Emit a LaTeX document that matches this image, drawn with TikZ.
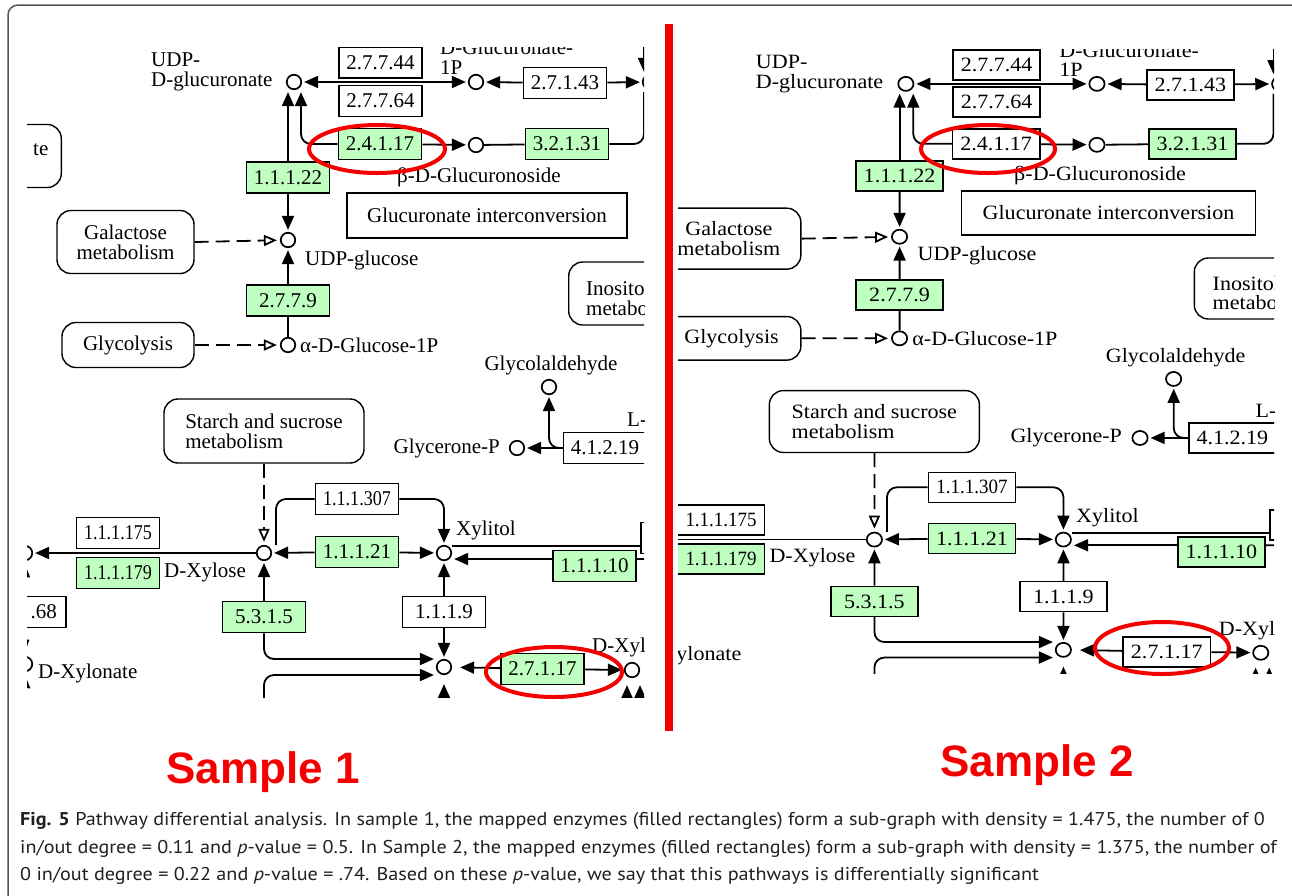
\documentclass[tikz,border=0pt]{standalone}
\usepackage{fontspec}
\usepackage{graphicx}
\setmainfont{Liberation Serif}
\newfontfamily\capfont[FakeStretch=1.09]{PT Sans}
\newfontfamily\bigsans{Liberation Sans}
\usetikzlibrary{arrows.meta}
\definecolor{kgreen}{RGB}{191,255,191}
\definecolor{framegray}{RGB}{85,85,85}
\definecolor{capgray}{RGB}{35,31,32}
\definecolor{sred}{RGB}{245,0,0}
\newcommand{\tightnum}[1]{\scalebox{0.86}[1]{#1}}
\newcommand{\keggmap}[3]{%
% ---------- pathway / title boxes
\node[pbox, minimum width=100pt, minimum height=63pt, anchor=east] (#1pte) at (62,156) {};
\node[lbl, anchor=west] (#1tte) at (33,150) {te};
\node[pbox, minimum width=137pt, minimum height=63pt, align=center] (#1pgal) at (125.5,242) {Galactose\\metabolism};
\node[pbox, minimum width=132pt, minimum height=45pt] (#1pgly) at (128,345) {Glycolysis};
\node[pbox, minimum width=130pt, minimum height=63pt, anchor=west] (#1pino) at (568,293.5) {};
\node[lbl, align=left, anchor=west] (#1tino) at (586,298) {Inositol phosphate\\metabolism};
\node[pbox, minimum width=200pt, minimum height=64pt, align=left] (#1pst) at (264,431) {Starch and sucrose\\metabolism};
\node[tbox] (#1gic) at (487,215.5) {Glucuronate interconversion};
% ---------- compounds
\node[cpd] (#1udpga) at (294,82) {};
\node[cpd] (#1gcp) at (476,82) {};
\node[cpd] (#1rca) at (650,82) {};
\node[cpd] (#1bgl) at (476,145) {};
\node[cpd] (#1udpg) at (288,240) {};
\node[cpd] (#1gip) at (288,345) {};
\node[cpd] (#1glyald) at (549,387) {};
\node[cpd] (#1glycp) at (517,448) {};
\node[cpd] (#1xyl) at (264,553) {};
\node[cpd] (#1xylt) at (444,553) {};
\node[cpd] (#1jn) at (444,667) {};
\node[cpd] (#1dxy) at (632,670) {};
\node[cpd] (#1lca) at (25,553) {};
\node[cpd] (#1lcb) at (25,664) {};
% ---------- enzymes
\node[ebox] (#1eaa) at (380.5,62.5) {2.7.7.44};
\node[ebox] (#1eab) at (380.5,101) {2.7.7.64};
\node[ebox] (#1eac) at (565,83) {2.7.1.43};
\node[ebox, fill=#2] (#1ead) at (380,144) {2.4.1.17};
\node[gbox] (#1eae) at (567,144) {3.2.1.31};
\node[gbox] (#1eaf) at (288,177.5) {1.1.1.22};
\node[gbox] (#1eag) at (288,300.5) {2.7.7.9};
\node[ebox] (#1eah) at (605,448) {4.1.2.19};
\node[ebox] (#1eai) at (357,499) {\tightnum{1.1.1.307}};
\node[gbox] (#1eaj) at (357,552) {1.1.1.21};
\node[ebox] (#1eak) at (118,533) {\tightnum{1.1.1.175}};
\node[gbox] (#1eal) at (118,573) {\tightnum{1.1.1.179}};
\node[gbox] (#1eam) at (264,617) {5.3.1.5};
\node[ebox] (#1ean) at (444,612) {1.1.1.9};
\node[gbox] (#1eao) at (594.5,566) {1.1.1.10};
\node[ebox, fill=#3] (#1eap) at (542.5,669) {2.7.1.17};
\node[ebox, minimum width=45pt, anchor=east] (#1eaq) at (67,612) {.68};
\node[ebox, anchor=west] (#1ear) at (640,538) {};
% ---------- compound labels
\node[lbl, align=left, anchor=west] (#1tudpga) at (151,72) {UDP-\\D-glucuronate};
\node[lbl, align=left, anchor=west] (#1tgcp) at (440,57) {D-Glucuronate-\\1P};
\node[lbl, anchor=west] (#1tbgl) at (397,177) {β-D-Glucuronoside};
\node[lbl, anchor=west] (#1tudpg) at (305,260) {UDP-glucose};
\node[lbl, anchor=west] (#1tgip) at (300,345) {α-D-Glucose-1P};
\node[lbl] (#1tglyald) at (551,365) {Glycolaldehyde};
\node[lbl, anchor=west] (#1tl) at (627,420) {L-};
\node[lbl, anchor=east] (#1tglycp) at (500,448) {Glycerone-P};
\node[lbl, anchor=west] (#1txylt) at (456,530) {Xylitol};
\node[lbl, anchor=west] (#1txyl) at (164,572) {D-Xylose};
\node[lbl, anchor=west] (#1txylon) at (38,673) {D-Xylonate};
\node[lbl, anchor=west] (#1tdxy) at (592,647) {D-Xylulose};
% ---------- helper coordinates
\coordinate (#1rcu) at (644,40);
\coordinate (#1rcd) at (644,92);
\coordinate (#1jlow) at (264,705);
\coordinate (#1jbot) at (444,720);
\coordinate (#1dba) at (627,720);
\coordinate (#1dbb) at (640,720);
\coordinate (#1lna) at (23,597);
\coordinate (#1lnb) at (23,636);
\coordinate (#1lnc) at (23,720);
\coordinate (#1xla) at ([yshift=7pt]#1xylt.east);
\coordinate (#1xlb) at ([yshift=-6pt]#1xylt.east);
\coordinate (#1xre) at (660,559);
% ---------- connectors
\draw[darr] (#1udpga) -- (#1gcp);
\draw[arr] (#1eac) -- (#1gcp);
\draw[arr] (#1eac) -- (#1rca);
\draw[arr] (#1rcu) -- (#1rcu |- #1rca.north);
\draw[conn, rc] (#1eae.east) -| (#1rcd);
\draw[arr] (#1eaf.north) -- (#1eaf.north |- #1udpga.south);
\draw[arr, rc] (#1ead.west) -| ([xshift=7pt]#1udpga.south);
\draw[arr] (#1ead) -- (#1bgl);
\draw[conn] (#1bgl) -- (#1eae);
\draw[arr] (#1eaf) -- (#1udpg);
\draw[oarr] (#1pgal.east) -- (#1udpg);
\draw[arr] (#1eag) -- (#1udpg);
\draw[conn] (#1gip) -- (#1eag);
\draw[oarr] (#1pgly.east) -- (#1gip);
\draw[arr] (#1eah) -- (#1glycp);
\draw[arr, rc] (#1eah.west) -| (#1glyald.south);
\draw[oarr] (#1pst.south) -- (#1xyl);
\draw[conn, rc] ([xshift=12pt,yshift=8pt]#1xyl.center) |- (#1eai.west);
\draw[arr, rc] (#1eai.east) -| (#1xylt.north);
\draw[arr] (#1eaj) -- (#1xyl);
\draw[arr] (#1eaj) -- (#1xylt);
\draw[arr] (#1xyl) -- (#1lca);
\draw[arr] (#1lna) -- (#1lca);
\draw[arr] (#1lnb) -- (#1lcb);
\draw[arr] (#1lnc) -- (#1lcb);
\draw[arr] (#1eam) -- (#1xyl);
\draw[arr, rc] (#1eam.south) |- ([yshift=8pt]#1jn.west);
\draw[arr, rc] (#1jlow) |- ([yshift=-8pt]#1jn.west);
\draw[arr] (#1ean) -- (#1xylt);
\draw[arr] (#1ean) -- (#1jn);
\draw[arr, shorten >=8pt] (#1eap) -- (#1jn);
\draw[arr, shorten >=9pt] (#1jbot) -- (#1jn);
\draw[arr] (#1eap) -- (#1dxy);
\draw[arr, shorten >=7pt] (#1dba) -- (#1dba |- #1dxy.south);
\draw[arr, shorten >=7pt] (#1dbb) -- (#1dbb |- #1dxy.south);
\draw[conn] (#1xla) -- (#1xla -| #1ear.west);
\draw[arr] (#1eao.west |- #1xlb) -- (#1xlb);
\draw[conn] (#1eao.east |- #1xlb) -- (#1xre);
}
\begin{document}
\begin{tikzpicture}[x=1pt,y=-1pt,
  kf/.style={font=\fontsize{21}{20}\selectfont},
  ebox/.style={kf, draw, line width=1.6pt, rectangle, minimum width=83pt, minimum height=31pt, inner sep=0pt, fill=white},
  gbox/.style={ebox, fill=kgreen},
  pbox/.style={kf, draw, line width=1.4pt, rounded corners=14pt, fill=white, inner sep=0pt},
  tbox/.style={kf, draw, line width=1.6pt, minimum width=280pt, minimum height=45pt, inner sep=0pt, fill=white},
  cpd/.style={circle, draw, line width=1.7pt, fill=white, minimum size=14.5pt, inner sep=0pt},
  lbl/.style={kf, inner sep=0pt},
  conn/.style={line width=1.8pt},
  rc/.style={rounded corners=10pt},
  arr/.style={conn, -{Triangle[length=14pt,width=12pt]}, shorten >=2pt},
  darr/.style={conn, {Triangle[length=14pt,width=12pt]}-{Triangle[length=14pt,width=12pt]}, shorten >=2pt, shorten <=2pt},
  oarr/.style={conn, dash pattern=on 14pt off 7pt, -{Triangle[open,length=13pt,width=11pt,fill=white]}, shorten >=3pt},
  hilite/.style={draw=sred, line width=4pt},
  captxt/.style={font=\capfont\fontsize{18.5}{20}\selectfont, text=capgray, inner sep=0pt, anchor=base west},
  bigred/.style={font=\bigsans\bfseries\fontsize{44}{44}\selectfont, text=sred, inner sep=0pt, anchor=base},
]
\useasboundingbox (0,0) rectangle (1292,895);
\fill[white] (0,0) rectangle (1292,895);
\draw[framegray, line width=1.5pt, rounded corners=10pt] (8,905) -- (8,5) -- (1305,5);
% left panel (Sample 1)
\begin{scope}
  \clip (27,47) rectangle (644,697);
  \keggmap{L}{kgreen}{kgreen}
\end{scope}
% right panel (Sample 2)
\begin{scope}
  \clip (678,49) rectangle (1274,673);
  \begin{scope}[shift={(597.15,4.53)}, xscale=1.05, yscale=0.9675, transform shape]
    \keggmap{R}{white}{white}
  \end{scope}
\end{scope}
% highlights
\draw[hilite] (377,149) ellipse [x radius=68, y radius=24];
\draw[hilite] (554,672) ellipse [x radius=68, y radius=25];
\draw[hilite] (988,149) ellipse [x radius=67, y radius=24];
\draw[hilite] (1162,648) ellipse [x radius=67, y radius=26];
\fill[sred] (665,24) rectangle (673,731);
\node[bigred] (s1) at (263,783) {Sample 1};
\node[bigred] (s2) at (1037,776) {Sample 2};
\node[captxt] (cap1) at (20,825) {\textbf{Fig. 5} Pathway differential analysis. In sample 1, the mapped enzymes (filled rectangles) form a sub-graph with density = 1.475, the number of 0};
\node[captxt] (cap2) at (20,853) {in/out degree = 0.11 and \textit{p}-value = 0.5. In Sample 2, the mapped enzymes (filled rectangles) form a sub-graph with density = 1.375, the number of};
\node[captxt] (cap3) at (20,880) {0 in/out degree = 0.22 and \textit{p}-value = .74. Based on these \textit{p}-value, we say that this pathways is differentially significant};
\end{tikzpicture}
\end{document}
